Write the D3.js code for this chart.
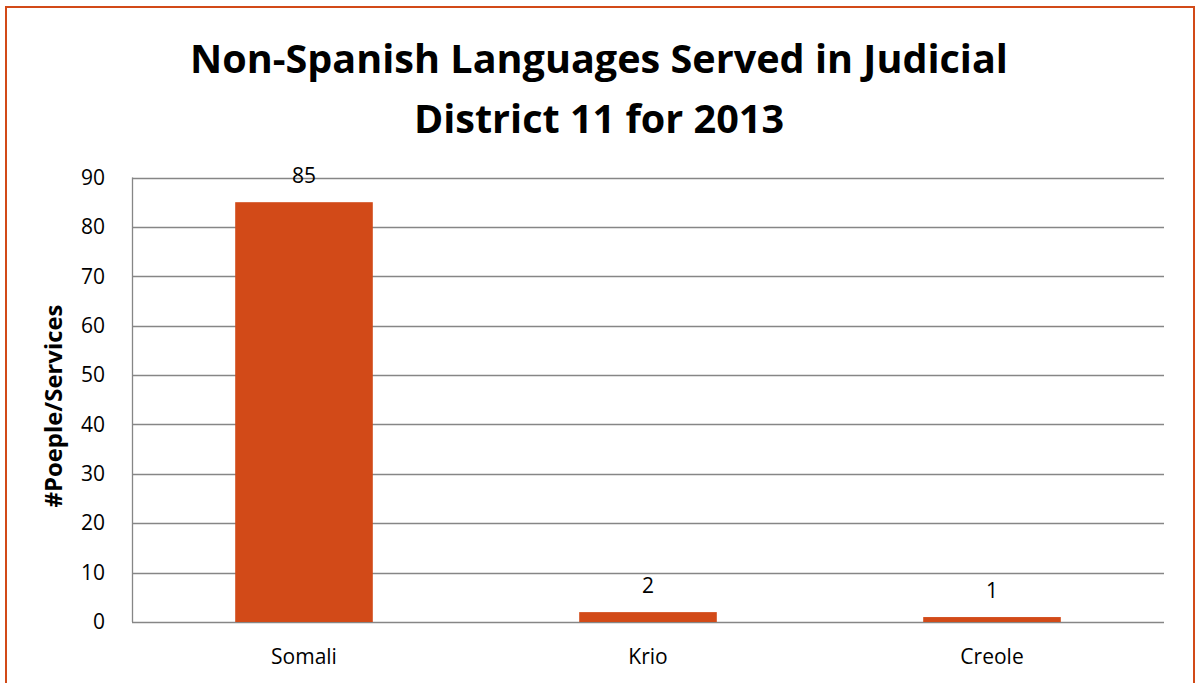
<!DOCTYPE html>
<html><head><meta charset="utf-8">
<script src="https://cdn.jsdelivr.net/npm/d3@7"></script>
<style>body{margin:0;background:#fff;}svg{display:block;}</style>
</head><body>
<script>
const categories = ["Somali", "Krio", "Creole"];
const values = [85, 2, 1];
const yTicks = [0, 10, 20, 30, 40, 50, 60, 70, 80, 90];
const titleLines = ["Non-Spanish Languages Served in Judicial", "District 11 for 2013"];
const yTitle = "#Poeple/Services";

const W = 1195, H = 683;
const font = "'Open Sans', sans-serif";
const svg = d3.select("body").append("svg").attr("width", W).attr("height", H);
svg.append("rect").attr("x", 6).attr("y", 7).attr("width", 1188).attr("height", 690)
  .attr("fill", "#fff").attr("stroke", "#D24A18").attr("stroke-width", 2);

const m = {l: 132, r: 1164, t: 177.5, b: 622};
const x = d3.scaleBand().domain(categories).range([m.l, m.r]);
const y = d3.scaleLinear().domain([0, 90]).range([m.b, m.t]);

const grid = svg.append("g");
grid.selectAll("line").data(yTicks).join("line")
  .attr("x1", m.l).attr("x2", m.r)
  .attr("y1", d => Math.round(y(d)) + 0.5).attr("y2", d => Math.round(y(d)) + 0.5)
  .attr("stroke", "#868686").attr("stroke-width", 1.3);
svg.append("line").attr("x1", m.l + 0.5).attr("x2", m.l + 0.5).attr("y1", y(90)).attr("y2", y(0))
  .attr("stroke", "#868686").attr("stroke-width", 1.3);

const yAxis = d3.axisLeft(y).tickValues(yTicks).tickSize(0).tickPadding(27);
const ga = svg.append("g").attr("transform", `translate(${m.l},0)`).call(yAxis);
ga.select(".domain").remove();
ga.selectAll("text").attr("font-family", font).attr("font-size", 21).attr("fill", "#000");

const xAxis = d3.axisBottom(x).tickSize(0).tickPadding(27);
const gx = svg.append("g").attr("transform", `translate(0,${m.b})`).call(xAxis);
gx.select(".domain").remove();
gx.selectAll("text").attr("font-family", font).attr("font-size", 21).attr("fill", "#000");

const bw = x.bandwidth() * 0.4;
svg.append("g").selectAll("rect").data(values).join("rect")
  .attr("x", (d, i) => x(categories[i]) + x.bandwidth() / 2 - bw / 2)
  .attr("width", bw)
  .attr("y", d => y(d)).attr("height", d => y(0) - y(d))
  .attr("fill", "#D24A18");

svg.append("g").selectAll("text").data(values).join("text")
  .attr("x", (d, i) => x(categories[i]) + x.bandwidth() / 2)
  .attr("y", d => y(d) - 19)
  .attr("text-anchor", "middle")
  .attr("font-family", font).attr("font-size", 21).attr("fill", "#000")
  .text(d => d);

const tt = svg.append("g").selectAll("text").data(titleLines).join("text")
  .attr("x", 599).attr("y", (d, i) => 73 + i * 60)
  .attr("text-anchor", "middle")
  .attr("font-family", font).attr("font-size", 40).attr("font-weight", "bold").attr("fill", "#000")
  .text(d => d);
// fit title to reference width
const tl = tt.nodes()[0].getComputedTextLength();
if (tl > 0) tt.attr("font-size", 40 * 818 / tl);

const yt = svg.append("text")
  .attr("transform", `translate(62,406) rotate(-90)`)
  .attr("text-anchor", "middle")
  .attr("font-family", font).attr("font-size", 19).attr("font-weight", "bold").attr("fill", "#000")
  .text(yTitle);
const yl = yt.node().getComputedTextLength();
if (yl > 0) yt.attr("font-size", 19 * 203 / yl);
</script>
</body></html>
